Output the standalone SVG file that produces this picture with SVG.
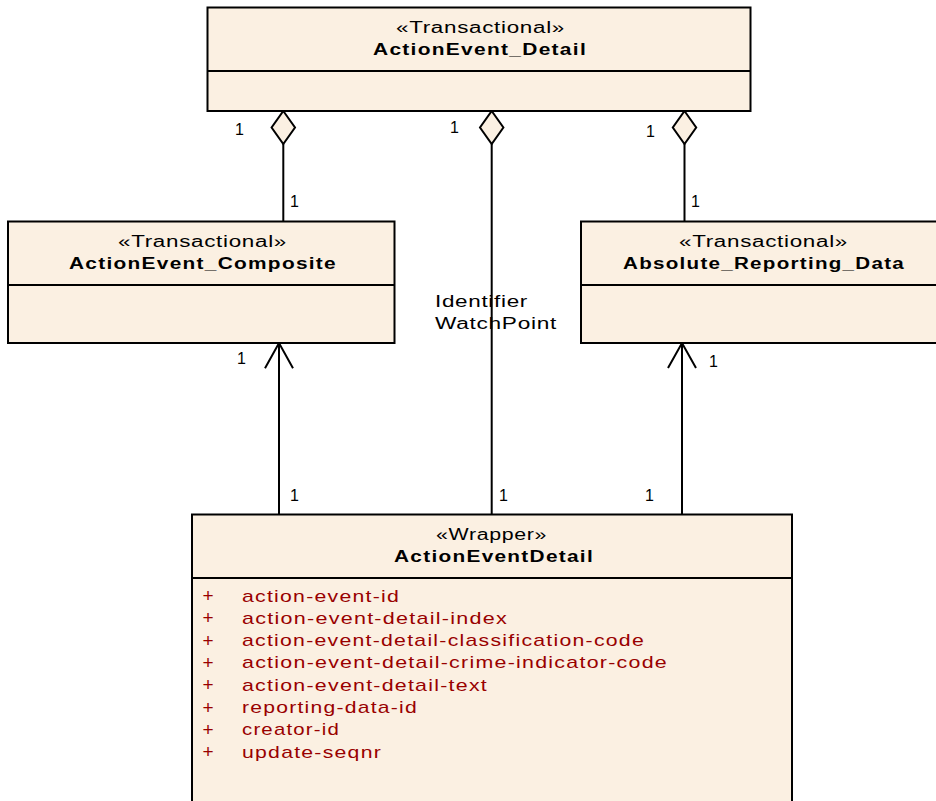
<svg xmlns="http://www.w3.org/2000/svg" width="936" height="801" viewBox="0 0 936 801">
<style>
.box{fill:#FBF0E2;stroke:#000;stroke-width:2}
.div{stroke:#000;stroke-width:2}
.st{font-family:"Liberation Sans",Arial,sans-serif;font-size:16px;fill:#000;letter-spacing:0.5px}
.nm{font-family:"Liberation Sans",Arial,sans-serif;font-size:16px;font-weight:bold;fill:#000;letter-spacing:1px}
.at{font-family:"Liberation Sans",Arial,sans-serif;font-size:17px;fill:#990000;letter-spacing:1px}
.pl{font-family:"Liberation Sans",Arial,sans-serif;font-size:19px;fill:#990000}
.ml{font-family:"Liberation Sans",Arial,sans-serif;font-size:16px;fill:#000}
.lb{font-family:"Liberation Sans",Arial,sans-serif;font-size:16px;fill:#000;letter-spacing:0.5px}
.ln{fill:none;stroke:#000;stroke-width:2}
.dia{fill:#FBF0E2;stroke:#000;stroke-width:2}
</style>
<rect width="936" height="801" fill="#fff"/>

<g id="connectors">
  <line class="ln" x1="283.3" y1="144" x2="283.3" y2="221"/>
  <polygon class="dia" points="283.3,111 295,127.5 283.3,144 271.6,127.5"/>
  <line class="ln" x1="491.7" y1="144" x2="491.7" y2="514"/>
  <polygon class="dia" points="491.7,111 503.4,127.5 491.7,144 480,127.5"/>
  <line class="ln" x1="684.5" y1="144" x2="684.5" y2="221"/>
  <polygon class="dia" points="684.5,111 696.2,127.5 684.5,144 672.8,127.5"/>
  <line class="ln" x1="279" y1="343" x2="279" y2="514"/>
  <polyline class="ln" points="265,368.3 279,343 293,368.3"/>
  <line class="ln" x1="682" y1="343" x2="682" y2="514"/>
  <polyline class="ln" points="668,368 682,343 696,368"/>
  <text class="ml" x="235" y="134.5">1</text>
  <text class="ml" x="290" y="207">1</text>
  <text class="ml" x="450" y="132.5">1</text>
  <text class="ml" x="646" y="137">1</text>
  <text class="ml" x="691" y="207">1</text>
  <text class="ml" x="237" y="363.5">1</text>
  <text class="ml" x="709" y="366.5">1</text>
  <text class="ml" x="290" y="500.5">1</text>
  <text class="ml" x="499" y="500.5">1</text>
  <text class="ml" x="645" y="500.5">1</text>
  <text class="lb" x="435" y="307" textLength="93" lengthAdjust="spacingAndGlyphs">Identifier</text>
  <text class="lb" x="435" y="328.5" textLength="122" lengthAdjust="spacingAndGlyphs">WatchPoint</text>
</g>

<g id="ActionEvent_Detail">
  <rect class="box" x="207.5" y="7.5" width="543" height="103.5"/>
  <line class="div" x1="207.5" y1="71" x2="750.5" y2="71"/>
  <text class="st" x="396" y="32.5" textLength="169" lengthAdjust="spacingAndGlyphs">«Transactional»</text>
  <text class="nm" x="373" y="55" textLength="214" lengthAdjust="spacingAndGlyphs">ActionEvent_Detail</text>
</g>

<g id="ActionEvent_Composite">
  <rect class="box" x="8" y="221.5" width="386.5" height="121.5"/>
  <line class="div" x1="8" y1="285" x2="394.5" y2="285"/>
  <text class="st" x="118" y="246.5" textLength="169" lengthAdjust="spacingAndGlyphs">«Transactional»</text>
  <text class="nm" x="69" y="269" textLength="268" lengthAdjust="spacingAndGlyphs">ActionEvent_Composite</text>
</g>

<g id="Absolute_Reporting_Data">
  <rect class="box" x="581" y="221.5" width="370" height="121.5"/>
  <line class="div" x1="581" y1="285" x2="951" y2="285"/>
  <text class="st" x="679" y="246.5" textLength="169" lengthAdjust="spacingAndGlyphs">«Transactional»</text>
  <text class="nm" x="623" y="269" textLength="282" lengthAdjust="spacingAndGlyphs">Absolute_Reporting_Data</text>
</g>

<g id="ActionEventDetail">
  <rect class="box" x="192" y="514.5" width="600" height="300"/>
  <line class="div" x1="192" y1="578" x2="792" y2="578"/>
  <text class="st" x="436" y="539.5" textLength="111" lengthAdjust="spacingAndGlyphs">«Wrapper»</text>
  <text class="nm" x="394" y="562" textLength="200" lengthAdjust="spacingAndGlyphs">ActionEventDetail</text>
  <g class="pl">
    <text x="202.5" y="602">+</text>
    <text x="202.5" y="624.3">+</text>
    <text x="202.5" y="646.6">+</text>
    <text x="202.5" y="668.9">+</text>
    <text x="202.5" y="691.2">+</text>
    <text x="202.5" y="713.5">+</text>
    <text x="202.5" y="735.8">+</text>
    <text x="202.5" y="758.1">+</text>
  </g>
  <g class="at">
    <text x="242" y="601.5" textLength="158" lengthAdjust="spacingAndGlyphs">action-event-id</text>
    <text x="242" y="623.8" textLength="266" lengthAdjust="spacingAndGlyphs">action-event-detail-index</text>
    <text x="242" y="646.1" textLength="403" lengthAdjust="spacingAndGlyphs">action-event-detail-classification-code</text>
    <text x="242" y="668.4" textLength="426" lengthAdjust="spacingAndGlyphs">action-event-detail-crime-indicator-code</text>
    <text x="242" y="690.7" textLength="246" lengthAdjust="spacingAndGlyphs">action-event-detail-text</text>
    <text x="242" y="713" textLength="176" lengthAdjust="spacingAndGlyphs">reporting-data-id</text>
    <text x="242" y="735.3" textLength="98" lengthAdjust="spacingAndGlyphs">creator-id</text>
    <text x="242" y="757.6" textLength="140" lengthAdjust="spacingAndGlyphs">update-seqnr</text>
  </g>
</g>
</svg>
